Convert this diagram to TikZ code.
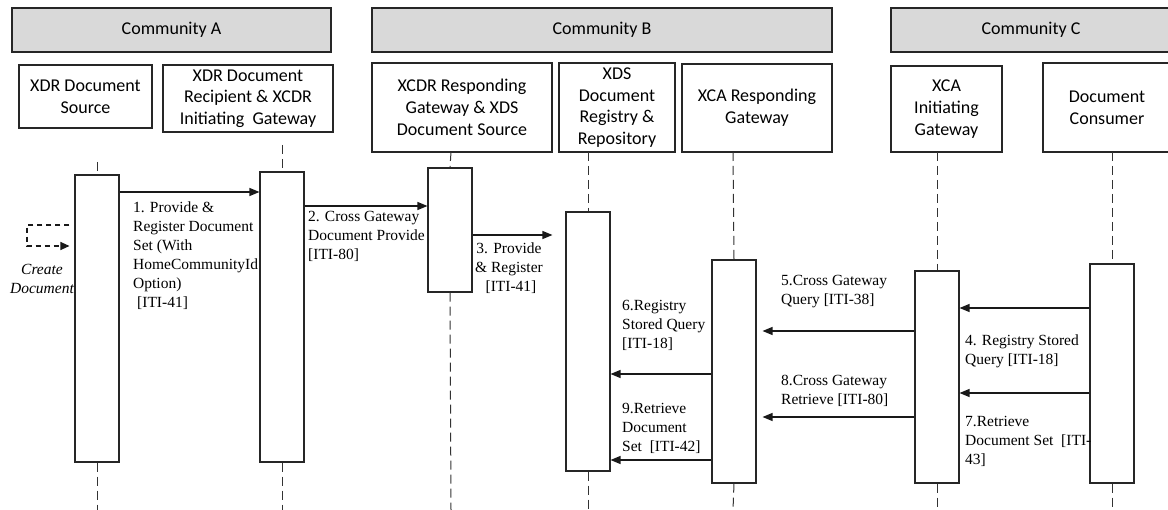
\documentclass[tikz,border=0pt]{standalone}
\usepackage{fontspec}
\setmainfont{Liberation Serif}
\newfontfamily\calfont{Carlito}
\usetikzlibrary{arrows.meta,calc}
\begin{document}
\begin{tikzpicture}[x=1pt,y=-1pt,
  comm/.style={draw=black!85, line width=1.1pt, fill=black!15, inner sep=0pt,
    font=\calfont\fontsize{18}{21.7}\selectfont},
  part/.style={draw=black!85, line width=1.1pt, fill=white, inner sep=0pt, align=center,
    font=\calfont\fontsize{18}{21.7}\selectfont},
  act/.style={draw=black!85, line width=1.1pt, fill=white, inner sep=0pt, minimum width=44pt},
  life/.style={draw=black!80, line width=1pt, dash pattern=on 9pt off 5pt},
  msg/.style={draw=black!90, line width=1.2pt, -{Triangle[length=10pt,width=8pt]}},
  selfmsg/.style={draw=black!90, line width=1.1pt, dash pattern=on 5pt off 4pt, -{Triangle[length=9pt,width=8pt]}},
  lbl/.style={font=\fontsize{15.5}{19}\selectfont, align=left, inner sep=0pt, anchor=north west},
  lblc/.style={font=\fontsize{15.5}{19}\selectfont, align=center, inner sep=0pt, anchor=north}
]
\useasboundingbox (0,0) rectangle (1168,510);
\fill[white] (0,0) rectangle (1168,510);

% community headers
\node[comm, minimum width=319pt, minimum height=44pt] (hA) at (171.5,30) {Community A};
\node[comm, minimum width=460pt, minimum height=44pt] (hB) at (602,30) {Community B};
\node[comm, minimum width=280pt, minimum height=44pt] (hC) at (1031,30) {Community C};

% participants
\node[part, minimum width=133pt, minimum height=63pt] (p1) at (85.5,96.5) {XDR Document\\Source};
\node[part, minimum width=170pt, minimum height=67pt] (p2) at (248,98.5) {XDR Document\\Recipient \& XCDR\\Initiating\ \ Gateway};
\node[part, minimum width=180pt, minimum height=89pt] (p3) at (462,107.5) {XCDR Responding\\Gateway \& XDS\\Document Source};
\node[part, minimum width=116pt, minimum height=89pt] (p4) at (617,107.5) {XDS\\Document\\Registry \&\\Repository};
\node[part, minimum width=150pt, minimum height=88pt] (p5) at (757,108) {XCA Responding\\Gateway};
\node[part, minimum width=111pt, minimum height=86pt] (p6) at (946.5,109) {XCA\\Initiating\\Gateway};
\node[part, minimum width=128pt, minimum height=89pt] (p7) at (1107,107.5) {Document\\Consumer};

% lifeline end points
\coordinate (t1) at (97,162);   \coordinate (b1) at (97,510);
\coordinate (t2) at (282,145);  \coordinate (b2) at (282,510);
\coordinate (t3) at (451,152);  \coordinate (b3) at (451,510);
\coordinate (t4) at (588,152);  \coordinate (b4) at (588,510);
\coordinate (t5) at (733,152);  \coordinate (b5) at (733,510);
\coordinate (t6) at (937,152);  \coordinate (b6) at (937,510);
\coordinate (t7) at (1112,152); \coordinate (b7) at (1112,510);

% activations
\node[act, minimum height=287pt] (a1) at (97,318.5) {};
\node[act, minimum height=290pt] (a2) at (282,317) {};
\node[act, minimum height=124pt] (a3) at (450,230) {};
\node[act, minimum height=259pt] (a4) at (588,341.5) {};
\node[act, minimum height=223pt] (a5) at (734,371.5) {};
\node[act, minimum height=212pt] (a6) at (937,377) {};
\node[act, minimum height=219pt] (a7) at (1112,373.5) {};

% lifelines
\foreach \i in {1,...,7}{
  \draw[life] (t\i) -- (a\i.north);
  \draw[life] (a\i.south) -- (b\i);
}

% self message
\coordinate (c1) at (27,225);
\coordinate (c2) at (27,246);
\draw[selfmsg] ($(a1.west |- 0,225)+(-5,0)$) -- (c1) -- (c2) -- ($(a1.west |- 0,246)+(-5,0)$);
\node[font=\itshape\fontsize{15.5}{19}\selectfont, align=center, inner sep=0pt, anchor=north] (lc) at (42,264) {Create\\Document};

% messages
\draw[msg] (a1.east |- 0,192) -- (a2.west |- 0,192);
\node[lbl] (l1) at (133,201.5) {1. Provide \&\\Register Document\\Set (With\\HomeCommunityId\\Option)\\\hspace{4pt}[ITI-41]};

\draw[msg] (a2.east |- 0,206) -- (a3.west |- 0,206);
\node[lbl] (l2) at (308,211.5) {2. Cross Gateway\\Document Provide\\{}[ITI-80]};

\draw[msg] (a3.east |- 0,235) -- ($(a4.west |- 0,235)+(-13,0)$);
\node[lblc] (l3) at (509,243) {3. Provide\\\& Register\\\hspace{4pt}[ITI-41]};

\draw[msg] (a7.west |- 0,308) -- (a6.east |- 0,308);
\node[lbl] (l4) at (965,335) {4. Registry Stored\\Query [ITI-18]};

\draw[msg] (a6.west |- 0,331) -- ($(a5.east |- 0,331)+(6,0)$);
\node[lbl] (l5) at (781,275) {5.Cross Gateway\\Query [ITI-38]};

\draw[msg] (a5.west |- 0,374) -- (a4.east |- 0,374);
\node[lbl] (l6) at (622,300) {6.Registry\\Stored Query\\{}[ITI-18]};

\draw[msg] (a7.west |- 0,393) -- (a6.east |- 0,393);
\node[lbl] (l7) at (965,416.5) {7.Retrieve\\Document Set\ \ [ITI-\\43]};

\draw[msg] (a6.west |- 0,417) -- ($(a5.east |- 0,417)+(6,0)$);
\node[lbl] (l8) at (781,375) {8.Cross Gateway\\Retrieve [ITI-80]};

\draw[msg] (a5.west |- 0,460) -- (a4.east |- 0,460);
\node[lbl] (l9) at (622,403) {9.Retrieve\\Document\\Set\ \ [ITI-42]};
\end{tikzpicture}
\end{document}
